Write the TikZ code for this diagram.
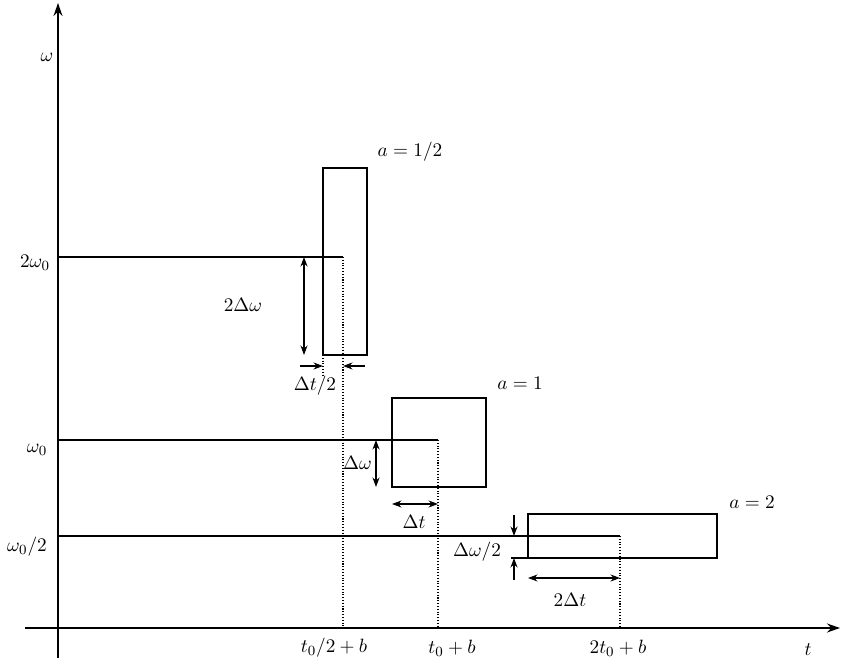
\documentclass[tikz,border=0pt]{standalone}
\usepackage{amsmath,amssymb}
\usetikzlibrary{arrows.meta}

\begin{document}
\begin{tikzpicture}[>={Stealth[length=1.9mm,width=1.4mm]}, semithick,
    font=\fontsize{11}{13}\selectfont,
    box/.style={very thick},
    guide/.style={densely dotted},
    axis/.style={thick, -{Stealth[length=2.6mm,width=1.8mm]}}]
    \useasboundingbox (-1.16,-0.78) rectangle (15.68,12.56);

    % 坐标轴
    \draw[axis] (-0.66,0) -- (15.64,0);
    \draw[axis] (0,-0.6) -- (0,12.5);
    \node (wlab) at (-0.22,11.42) {$\omega$};
    \node (tlab) at (15.0,-0.44) {$t$};

    % a = 1/2 的窗口
    \draw[box] (5.30,5.46) rectangle (6.18,9.20);
    \draw (0,7.42) -- (5.70,7.42);
    \draw[guide] (5.70,7.42) -- (5.70,0);
    \draw[guide] (5.30,5.46) -- (5.30,5.05);
    \draw[<->] (4.92,7.42) -- (4.92,5.46);
    \draw[->] (4.84,5.24) -- (5.30,5.24);
    \draw[->] (6.14,5.24) -- (5.70,5.24);
    \node (w2) at (-0.46,7.30) {$2\omega_0$};
    \node (dw2) at (3.70,6.46) {$2\Delta\omega$};
    \node (dth) at (5.14,4.84) {$\Delta t/2$};
    \node (ah) at (7.04,9.52) {$a = 1/2$};
    \node (th) at (5.52,-0.40) {$t_0/2 + b$};

    % a = 1 的窗口
    \draw[box] (6.68,2.82) rectangle (8.56,4.60);
    \draw (0,3.76) -- (7.60,3.76);
    \draw[guide] (7.60,3.76) -- (7.60,0);
    \draw[<->] (6.36,3.76) -- (6.36,2.82);
    \draw[<->] (6.68,2.48) -- (7.60,2.48);
    \node (w1) at (-0.42,3.56) {$\omega_0$};
    \node[anchor=east, inner sep=1pt] (dw1) at (6.32,3.30) {$\Delta\omega$};
    \node (dt1) at (7.12,2.12) {$\Delta t$};
    \node (a1) at (9.24,4.90) {$a = 1$};
    \node (t1) at (7.88,-0.40) {$t_0 + b$};

    % a = 2 的窗口
    \draw[box] (9.40,1.40) rectangle (13.18,2.28);
    \draw (0,1.84) -- (11.24,1.84);
    \draw[guide] (11.24,1.84) -- (11.24,0);
    \draw (9.06,1.40) -- (9.40,1.40);
    \draw[->] (9.12,2.26) -- (9.12,1.84);
    \draw[->] (9.12,0.96) -- (9.12,1.40);
    \draw[<->] (9.40,1.00) -- (11.24,1.00);
    \node (wh) at (-0.62,1.62) {$\omega_0/2$};
    \node (dwh) at (8.38,1.52) {$\Delta\omega/2$};
    \node (dt2) at (10.24,0.56) {$2\Delta t$};
    \node (a2) at (13.88,2.52) {$a = 2$};
    \node (t2) at (11.20,-0.40) {$2t_0 + b$};
\end{tikzpicture}
\end{document}
